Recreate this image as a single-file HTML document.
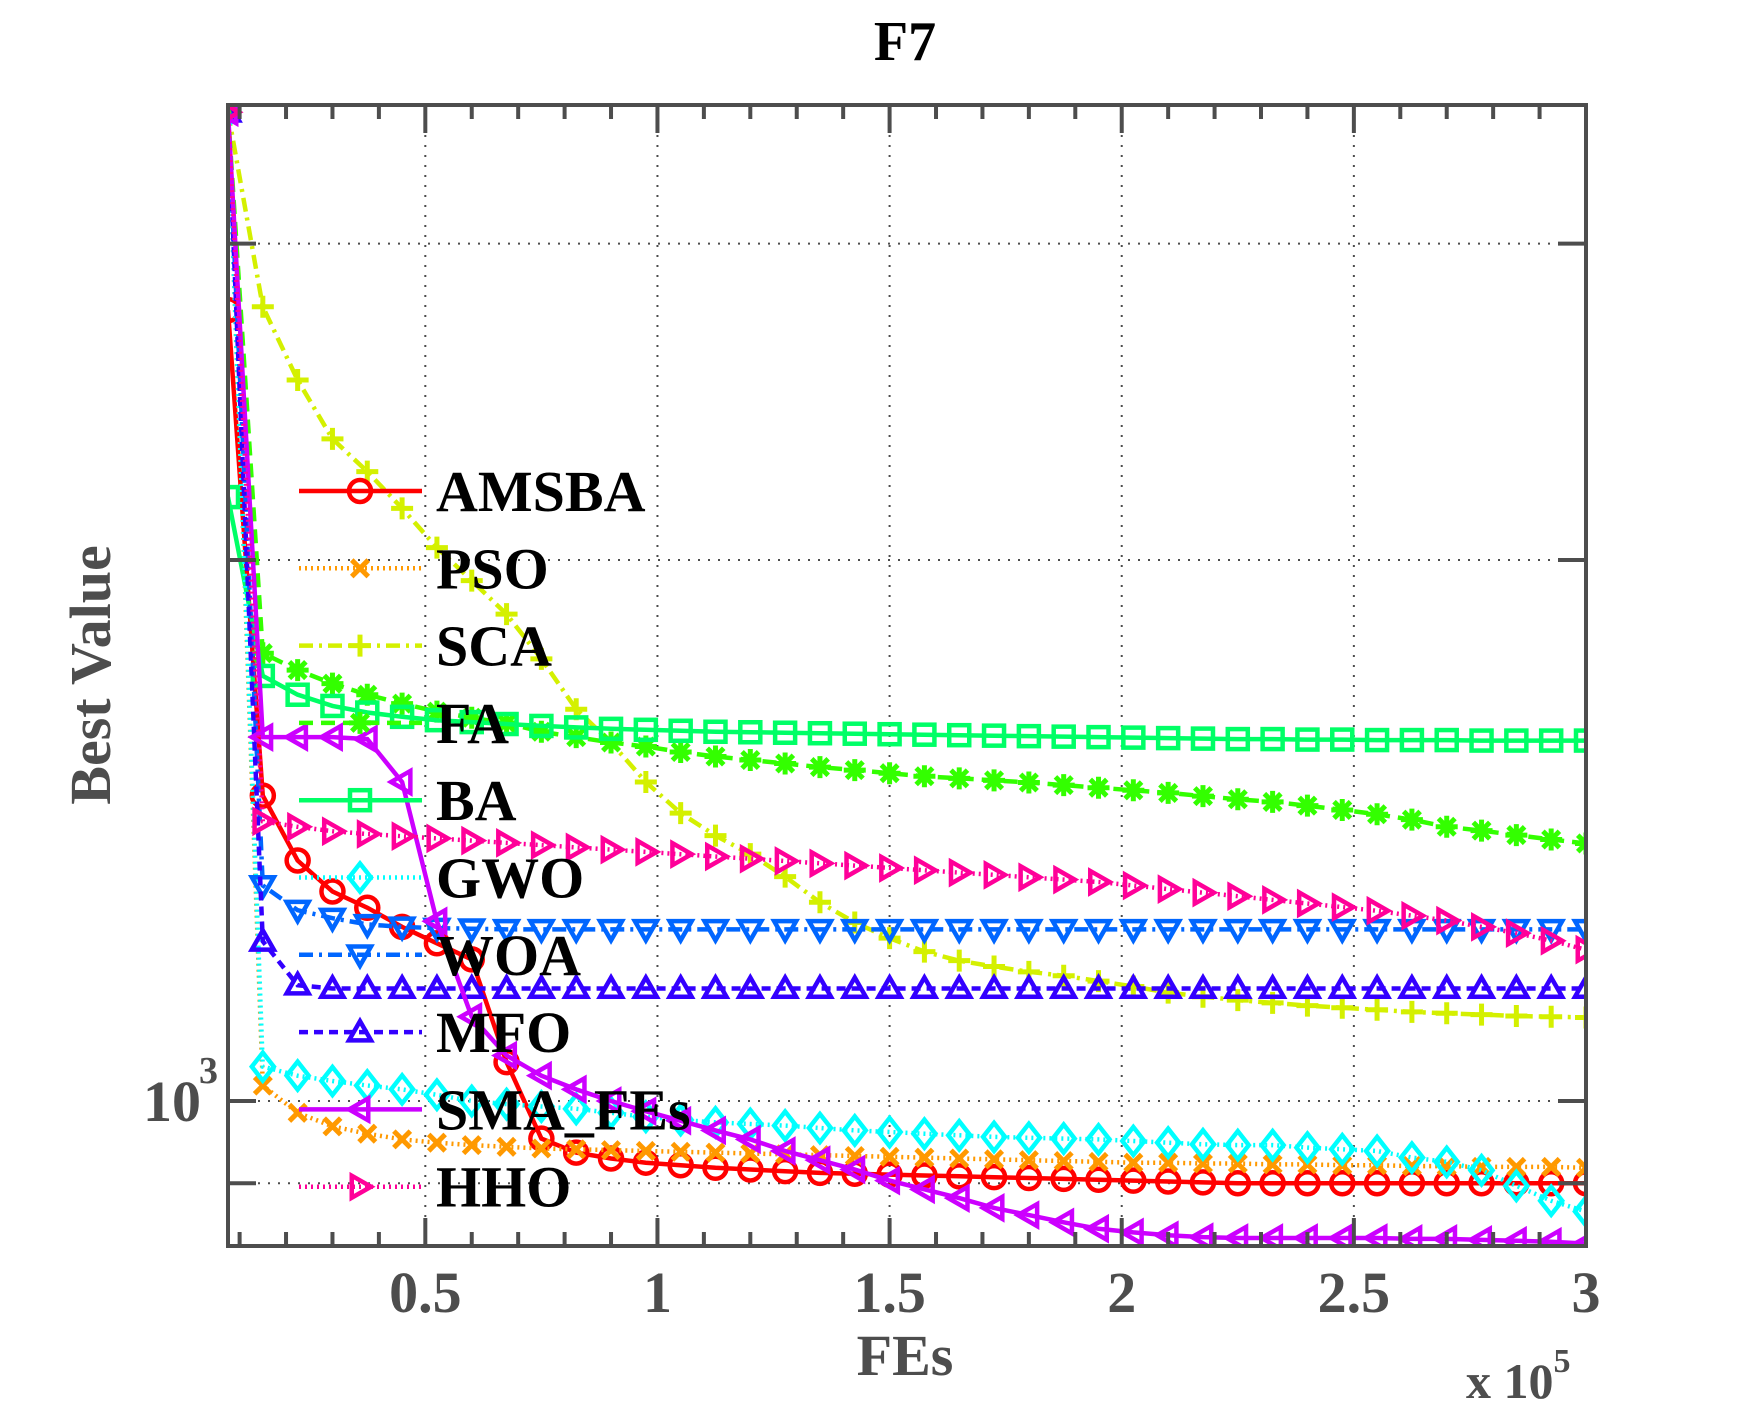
<!DOCTYPE html>
<html><head><meta charset="utf-8">
<style>
html,body{margin:0;padding:0;background:#fff;}
svg{display:block;}
text{font-family:"Liberation Serif",serif;font-weight:bold;}
</style></head>
<body>
<svg id="chart" width="1752" height="1401" viewBox="0 0 1752 1401" xmlns="http://www.w3.org/2000/svg">
<defs><clipPath id="plotclip"><rect x="228" y="105" width="1358" height="1141"/></clipPath></defs>
<rect width="1752" height="1401" fill="#fff"/>
<g id="grid"></g>
<g id="series" clip-path="url(#plotclip)"></g>
<g id="axes"></g>
<g id="legend"></g>
<text x="905" y="60" font-size="56" text-anchor="middle" fill="#000">F7</text>
<text x="905" y="1375" font-size="58" text-anchor="middle" fill="#4d4d4d">FEs</text>
<text transform="translate(110,675) rotate(-90)" font-size="58" text-anchor="middle" fill="#4d4d4d">Best Value</text>
<text x="1466" y="1398" font-size="50" fill="#4d4d4d">x 10<tspan font-size="34" dy="-26">5</tspan></text>
</svg>
<script>
// ---- data ----
const xValues = [];
for (let i = 1; i <= 40; i++) xValues.push(0.075 * i);
const seriesNames = ["AMSBA","PSO","SCA","FA","BA","GWO","WOA","MFO","SMA_FEs","HHO"];
const amsba = [2755,1479,1361,1308,1281,1250,1224,1199,1051,953,936,929,924,921,918,916,914,912,911,910,909,908,907,906,905,904,903,902,901,900,900,900,900,900,900,900,900,900,900,900];
const pso = [3550,1020,985,968,959,952,948,945,943,941,940,939,938,937,936,935,934,933,932,931,930,929,928,927,926,925,924,924,923,923,922,922,921,921,920,920,919,919,919,918];
const sca = [3550,2767,2519,2336,2240,2137,2032,1948,1866,1762,1652,1583,1505,1446,1405,1372,1333,1290,1257,1232,1211,1197,1188,1180,1174,1166,1158,1149,1143,1138,1134,1130,1127,1124,1121,1119,1117,1115,1114,1113];
const fa = [3550,1775,1737,1707,1683,1664,1647,1634,1623,1605,1594,1583,1575,1564,1555,1548,1541,1534,1528,1522,1516,1512,1508,1504,1499,1494,1489,1484,1478,1472,1467,1460,1452,1444,1434,1421,1414,1406,1398,1391];
const ba = [2168,1724,1683,1659,1645,1636,1629,1625,1621,1617,1614,1611,1609,1607,1605,1604,1603,1602,1601,1600,1599,1598,1597,1596,1595,1594,1593,1592,1591,1590,1590,1589,1589,1588,1588,1588,1587,1587,1587,1587];
const gwo = [3550,1045,1033,1026,1020,1015,1008,1000,996,993,990,985,980,976,973,971,969,966,963,961,959,957,955,954,953,952,950,948,946,945,945,942,940,938,930,925,915,897,880,868];
const woa = [3550,1318,1277,1264,1254,1250,1248,1247,1246,1246,1246,1246,1246,1246,1246,1246,1246,1246,1246,1246,1246,1246,1246,1246,1246,1246,1246,1246,1246,1246,1246,1246,1246,1246,1246,1246,1246,1246,1246,1246];
const mfo = [3550,1227,1160,1155,1155,1155,1155,1155,1155,1155,1155,1155,1155,1155,1155,1155,1155,1155,1155,1155,1155,1155,1155,1155,1155,1155,1155,1155,1155,1155,1155,1155,1155,1155,1155,1155,1155,1155,1155,1155];
const sma = [3550,1594,1594,1594,1590,1505,1259,1114,1060,1033,1015,1000,987,975,963,952,938,927,916,903,893,883,872,864,856,849,845,842,840,839,839,839,839,839,838,838,837,836,835,833];
const hho = [3550,1431,1421,1413,1408,1404,1400,1396,1392,1388,1384,1380,1376,1372,1368,1364,1360,1356,1352,1348,1344,1340,1336,1332,1328,1324,1318,1312,1306,1300,1294,1288,1282,1276,1268,1260,1250,1240,1228,1214];
const xTickValues = [0.5,1,1.5,2,2.5,3];
const xTickLabels = ["0.5","1","1.5","2","2.5","3"];
const yTickValues = [900,1000,2000,3000];

// ---- scales ----
const X0 = 228, X1 = 1586, Y0 = 105, Y1 = 1246;
const xMin = 0.075, xMax = 3;
function xScale(v){ return X0 + (v - xMin) / (xMax - xMin) * (X1 - X0); }
const yRef = 1101, decade = 1797;
function yScale(v){ return yRef - (Math.log10(v) - 3) * decade; }

const NS = "http://www.w3.org/2000/svg";
function mk(tag, attrs, parent){
  const el = document.createElementNS(NS, tag);
  for (const k in attrs) el.setAttribute(k, attrs[k]);
  parent.appendChild(el);
  return el;
}
const grid = document.getElementById("grid");
const axes = document.getElementById("axes");
const seriesG = document.getElementById("series");
const legend = document.getElementById("legend");
const AX = "#4d4d4d";

// grid
xTickValues.forEach(v => {
  const x = xScale(v);
  if (x < X1 - 2) {
    const g = mk("line", {x1:x, y1:Y0, x2:x, y2:Y1, stroke:AX, "stroke-width":2, "stroke-dasharray":"2 8"}, grid);
    
    
  }
});
yTickValues.forEach(v => {
  const y = yScale(v);
  const g = mk("line", {x1:X0, y1:y, x2:X1, y2:y, stroke:AX, "stroke-width":2, "stroke-dasharray":"2 8"}, grid);
  
  
});

// series styles
const styles = [
  {c:"#ff0000", d:"", m:"circle"},
  {c:"#ff9900", d:"2 4", m:"x"},
  {c:"#d4f000", d:"14 6 3 6", m:"plus"},
  {c:"#33ff00", d:"14 8", m:"star"},
  {c:"#00ff66", d:"", m:"square"},
  {c:"#00ffff", d:"2 4", m:"diamond"},
  {c:"#0066ff", d:"14 6 3 6", m:"tridown"},
  {c:"#3300ff", d:"9 6", m:"triup"},
  {c:"#cc00ff", d:"", m:"trileft"},
  {c:"#ff0099", d:"2 4", m:"triright"}
];
const allSeries = [amsba,pso,sca,fa,ba,gwo,woa,mfo,sma,hho];

function marker(type, x, y, color, parent){
  const s = 11, w = 4.5;
  let el;
  const common = {fill:"none", stroke:color, "stroke-width":w};
  if (type === "circle") el = mk("circle", Object.assign({cx:x, cy:y, r:s}, common), parent);
  else if (type === "square") el = mk("rect", Object.assign({x:x-s+1, y:y-s+1, width:2*s-2, height:2*s-2}, common), parent);
  else if (type === "diamond") el = mk("polygon", Object.assign({points:`${x},${y-s-3} ${x+s},${y} ${x},${y+s+3} ${x-s},${y}`}, common), parent);
  else if (type === "triup") el = mk("polygon", Object.assign({points:`${x},${y-s} ${x+s},${y+s*0.75} ${x-s},${y+s*0.75}`}, common), parent);
  else if (type === "tridown") el = mk("polygon", Object.assign({points:`${x},${y+s} ${x+s},${y-s*0.75} ${x-s},${y-s*0.75}`}, common), parent);
  else if (type === "trileft") el = mk("polygon", Object.assign({points:`${x-s},${y} ${x+s*0.75},${y-s} ${x+s*0.75},${y+s}`}, common), parent);
  else if (type === "triright") el = mk("polygon", Object.assign({points:`${x+s},${y} ${x-s*0.75},${y-s} ${x-s*0.75},${y+s}`}, common), parent);
  else {
    let d = "";
    if (type === "plus" || type === "star") d += `M${x-s},${y}H${x+s}M${x},${y-s}V${y+s}`;
    if (type === "x" || type === "star") { const k = s*0.75; d += `M${x-k},${y-k}L${x+k},${y+k}M${x-k},${y+k}L${x+k},${y-k}`; }
    el = mk("path", {d:d, stroke:color, "stroke-width":5, fill:"none"}, parent);
  }
  return el;
}

allSeries.forEach((vals, si) => {
  const st = styles[si];
  const g = mk("g", {}, seriesG);
  
  
  const pts = vals.map((v, i) => xScale(xValues[i]).toFixed(1) + "," + yScale(v).toFixed(1)).join(" ");
  const line = mk("polyline", {points:pts, fill:"none", stroke:st.c, "stroke-width":4.5, "stroke-dasharray":st.d}, g);
  
  
  vals.forEach((v, i) => {
    const m = marker(st.m, xScale(xValues[i]), yScale(v), st.c, g);
    
    
  });
});

// axes box
const box = mk("rect", {x:X0, y:Y0, width:X1-X0, height:Y1-Y0, fill:"none", stroke:AX, "stroke-width":4}, axes);


for (let k = 1; k <= 30; k++) {
  const v = k / 10;
  const x = xScale(v);
  if (x <= X0 + 2 || x >= X1 - 2) continue;
  const major = Math.abs(v*2 - Math.round(v*2)) < 1e-9;
  const len = major ? 28 : 14;
  const t1 = mk("line", {x1:x, y1:Y1, x2:x, y2:Y1-len, stroke:AX, "stroke-width":4}, axes);
  
  
  const t2 = mk("line", {x1:x, y1:Y0, x2:x, y2:Y0+len, stroke:AX, "stroke-width":4}, axes);
  
  
}
xTickValues.forEach((v, i) => {
  const t = mk("text", {x:xScale(v), y:1312, "font-size":58, "text-anchor":"middle", fill:AX}, axes);
  t.textContent = xTickLabels[i];
  
  
});
yTickValues.forEach(v => {
  const y = yScale(v);
  const a = mk("line", {x1:X0, y1:y, x2:X0+28, y2:y, stroke:AX, "stroke-width":4}, axes);
  
  
  const b = mk("line", {x1:X1, y1:y, x2:X1-28, y2:y, stroke:AX, "stroke-width":4}, axes);
  
  
});
const yl = mk("text", {x:143, y:yScale(1000)+20, "font-size":58, fill:AX}, axes);
yl.textContent = "10";


const ye = mk("text", {x:199, y:yScale(1000)-18, "font-size":38, fill:AX}, axes);
ye.textContent = "3";



// legend
seriesNames.forEach((name, i) => {
  const y = 491 + i * 77.3;
  const st = styles[i];
  const g = mk("g", {}, legend);
  
  
  mk("line", {x1:299, y1:y, x2:422, y2:y, stroke:st.c, "stroke-width":4.5, "stroke-dasharray":st.d}, g);
  marker(st.m, 360, y, st.c, g);
  const t = mk("text", {x:436, y:y+20, "font-size":58, fill:"#000"}, g);
  t.textContent = name;
});
</script>
</body></html>
